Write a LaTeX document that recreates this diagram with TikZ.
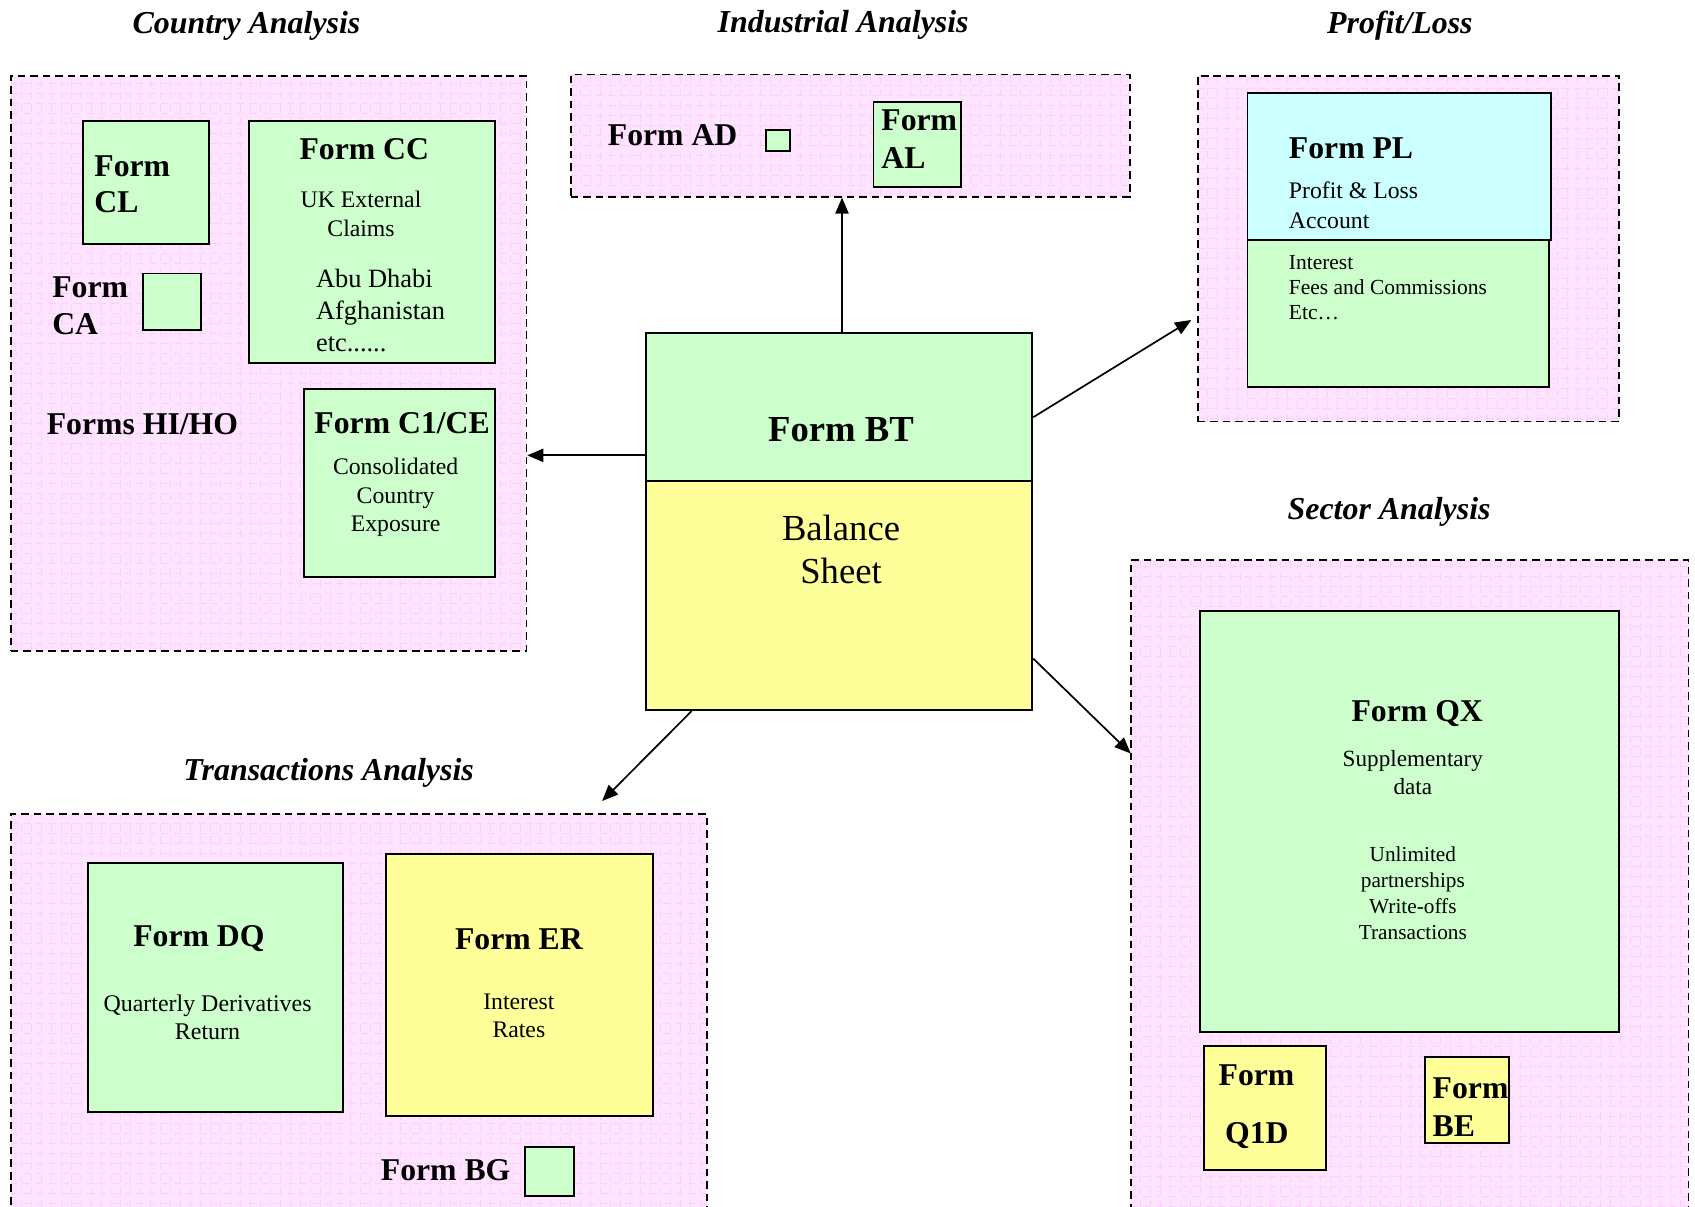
\documentclass[tikz,border=0pt]{standalone}
\usepackage{fontspec}
\setmainfont{Liberation Serif}
\usetikzlibrary{arrows.meta,fit}
\definecolor{regionpink}{RGB}{255,228,255}
\definecolor{gridpink}{RGB}{252,208,252}
\definecolor{formgreen}{RGB}{204,255,204}
\definecolor{formyellow}{RGB}{255,255,153}
\definecolor{formcyan}{RGB}{204,255,255}

\begin{document}
\begin{tikzpicture}[x=0.02cm, y=-0.02cm,
  region/.style = {draw, dash pattern=on 4pt off 2.6pt, line width=0.9pt, fill=regionpink, inner sep=0pt,
    path picture={\draw[gridpink, line width=0.3pt] (path picture bounding box.south west) grid[step=0.185cm] (path picture bounding box.north east);}},
  formbox/.style = {draw, line width=1pt, fill=formgreen, inner sep=0pt},
  heading/.style = {inner sep=0pt, anchor=base, font=\fontsize{16.8}{20}\selectfont\bfseries\itshape},
  formname/.style = {inner sep=0pt, font=\fontsize{16.7}{19.3}\selectfont\bfseries},
  note/.style = {inner sep=0pt, font=\fontsize{12.5}{15.4}\selectfont},
  flow/.style = {line width=0.9pt, -{Triangle[length=8.5pt, width=7pt]}}]

\useasboundingbox (0,0) rectangle (1568,1116);
\clip (0,0) rectangle (1568,1116);

% analysis regions
\node[region, fit={(10,70) (487,602)}] (country) {};
\node[region, fit={(528,69) (1045,182)}] (industry) {};
\node[region, fit={(1108,70) (1498,390)}] (profit) {};
\node[region, fit={(1046,518) (1562,1140)}] (sector) {};
\node[region, fit={(10,753) (654,1140)}] (trans) {};

\node[heading] (countryT) at (228,31) {Country Analysis};
\node[heading] (industryT) at (780,30) {Industrial Analysis};
\node[heading] (profitT) at (1295,31) {Profit/Loss};
\node[heading] (sectorT) at (1285,481) {Sector Analysis};
\node[heading] (transT) at (304,722) {Transactions Analysis};

% country analysis
\node[formbox, fit={(77,112) (193,226)}] (cl) {};
\node[formname, anchor=base west, align=left] (clT) at (87,197) {Form\\CL};
\node[formname, anchor=base west, align=left] (caT) at (48,309) {Form\\CA};
\node[formbox, fit={(132,253) (186,305)}] (ca) {};
\node[formbox, fit={(230,112) (458,336)}] (cc) {};
\node[formname, anchor=base] (ccT) at (337,148) {Form CC};
\node[note, anchor=base, align=center] (ccN) at (334,219) {UK External\\Claims};
\node[note, anchor=base west, align=left, font=\fontsize{13.9}{16.8}\selectfont] (ccL) at (292,325) {Abu Dhabi\\Afghanistan\\etc......};
\node[formname, anchor=base west] (hiho) at (43,402) {Forms HI/HO};
\node[formbox, fit={(281,360) (458,534)}] (ce) {};
\node[formname, anchor=base] (ceT) at (372,401) {Form C1/CE};
\node[note, anchor=base, align=center, font=\fontsize{12.5}{15}\selectfont] (ceN) at (366,492) {Consolidated\\Country\\Exposure};

% industrial analysis
\node[formname, anchor=base west] (adT) at (562,135) {Form AD};
\node[formbox, fit={(709,120) (731,140)}] (ad) {};
\node[formbox, fit={(808,94) (889,173)}] (al) {};
\node[formname, anchor=base west, align=left, font=\fontsize{16.7}{19.9}\selectfont\bfseries] (alT) at (815,156) {Form\\AL};

% profit/loss
\node[formbox, fill=formcyan, fit={(1154,86) (1435,222)}] (plTop) {};
\node[formbox, fit={(1154,222) (1433,358)}] (plBot) {};
\node[formname, anchor=base west] (plT) at (1192,147) {Form PL};
\node[note, anchor=base west, align=left] (plN) at (1192,211) {Profit \& Loss\\Account};
\node[note, anchor=base west, align=left, font=\fontsize{11.3}{13.4}\selectfont] (plL) at (1192,296) {Interest\\Fees and Commissions\\Etc…};

% balance sheet
\node[formbox, fit={(598,308) (955,445)}] (btTop) {};
\node[formbox, fill=formyellow, fit={(598,445) (955,657)}] (btBot) {};
\node[formname, anchor=base, font=\fontsize{19.3}{22.8}\selectfont\bfseries] (btT) at (778,408) {Form BT};
\node[note, anchor=base, align=center, font=\fontsize{19.3}{22.8}\selectfont] (btN) at (778,540) {Balance\\Sheet};

% sector analysis
\node[formbox, fit={(1110,565) (1498,955)}] (qx) {};
\node[formname, anchor=base] (qxT) at (1311,667) {Form QX};
\node[note, anchor=base, align=center, font=\fontsize{12.2}{14.8}\selectfont] (qxN) at (1307,735) {Supplementary\\data};
\node[note, anchor=base, align=center, font=\fontsize{11.2}{13.7}\selectfont] (qxL) at (1307,869) {Unlimited\\partnerships\\Write-offs\\Transactions};
\node[formbox, fill=formyellow, fit={(1114,968) (1227,1082)}] (q1d) {};
\node[formname, anchor=base west] (q1dT) at (1127,1004) {Form};
\node[formname, anchor=base west] (q1dN) at (1133,1058) {Q1D};
\node[formbox, fill=formyellow, fit={(1318,978) (1396,1057)}] (be) {};
\node[formname, anchor=base west, align=left, font=\fontsize{16.7}{19.9}\selectfont\bfseries] (beT) at (1325,1051) {Form\\BE};

% transactions analysis
\node[formbox, fit={(81,798) (317,1029)}] (dq) {};
\node[formname, anchor=base] (dqT) at (184,876) {Form DQ};
\node[note, anchor=base, align=center, font=\fontsize{12.6}{14.8}\selectfont] (dqN) at (192,962) {Quarterly Derivatives\\Return};
\node[formbox, fill=formyellow, fit={(357,790) (604,1032)}] (er) {};
\node[formname, anchor=base] (erT) at (480,878) {Form ER};
\node[note, anchor=base, align=center, font=\fontsize{12.5}{14.8}\selectfont] (erN) at (480,960) {Interest\\Rates};
\node[formname, anchor=base west] (bgT) at (352,1092) {Form BG};
\node[formbox, fit={(486,1061) (531,1106)}] (bg) {};

% links out of Form BT
\coordinate (plTip) at (1102,296);
\coordinate (qxTip) at (1046,697);
\coordinate (trTip) at (557,741);
\draw[flow] (btTop.88) -- (btTop.88 |- industry.south);
\draw[flow] (btTop.194) -- (btTop.194 -| country.east);
\draw[flow] (btTop.-3) -- (plTip);
\draw[flow] (btBot.-18) -- (qxTip);
\draw[flow] (btBot.218) -- (trTip);

\end{tikzpicture}
\end{document}
